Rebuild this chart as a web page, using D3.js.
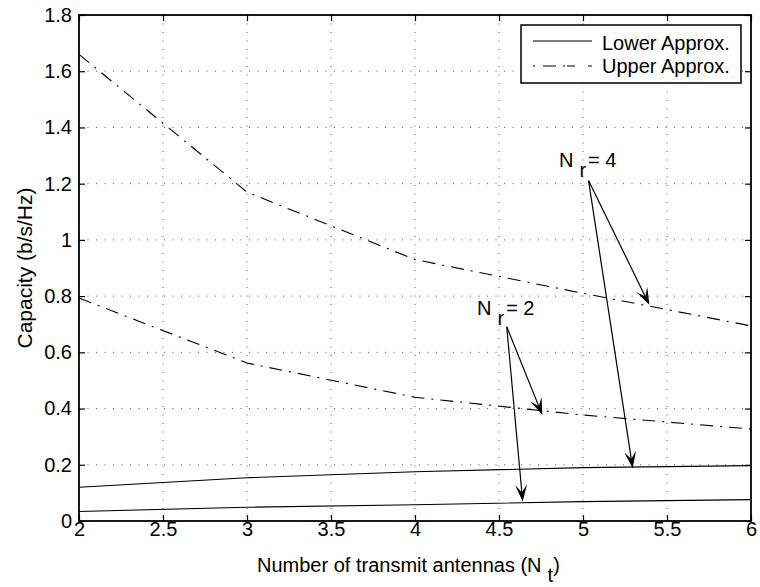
<!DOCTYPE html>
<html>
<head>
<meta charset="utf-8">
<script src="https://cdn.jsdelivr.net/npm/d3@7"></script>
<style>
  body { margin: 0; background: #fff; }
  text { font-family: "Liberation Sans", Arial, sans-serif; }
</style>
</head>
<body>
<div id="chart"></div>
<script>
const width = 760;
const height = 587;

// Data
const nt = [2, 3, 4, 5, 6];
const lowerNr2 = [0.034, 0.049, 0.058, 0.069, 0.076];
const lowerNr4 = [0.120, 0.154, 0.175, 0.190, 0.197];
const upperNr2 = [0.793, 0.562, 0.440, 0.377, 0.327];
const upperNr4 = [1.660, 1.170, 0.930, 0.810, 0.694];

const xTicks = [2, 2.5, 3, 3.5, 4, 4.5, 5, 5.5, 6];
const yTicks = [0, 0.2, 0.4, 0.6, 0.8, 1, 1.2, 1.4, 1.6, 1.8];

const legendLabels = ["Lower Approx.", "Upper Approx."];

// Annotations: label, text anchor, arrow tail and arrow heads (data units)
const annLabels = ["4", "2"];
const annTextPos = [[4.863, 1.26], [4.375, 0.733]];
const annTails = [[5.033, 1.211], [4.546, 0.691]];
const annHeads = [
  [[5.395, 0.769], [5.296, 0.1875]],
  [[4.758, 0.377], [4.641, 0.069]]
];

const margin = { top: 15, right: 9, bottom: 66, left: 79 };
const innerW = width - margin.left - margin.right;
const innerH = height - margin.top - margin.bottom;

const x = d3.scaleLinear().domain([2, 6]).range([0, innerW]);
const y = d3.scaleLinear().domain([0, 1.8]).range([innerH, 0]);

const svg = d3.select("#chart")
  .append("svg")
  .attr("width", width)
  .attr("height", height);

const g = svg.append("g")
  .attr("transform", `translate(${margin.left},${margin.top})`);

const fontSize = 20;

// Dotted grid
g.append("g")
  .selectAll("line")
  .data(xTicks.slice(1, -1))
  .join("line")
  .attr("x1", d => x(d)).attr("x2", d => x(d))
  .attr("y1", 0).attr("y2", innerH)
  .attr("stroke", "#555")
  .attr("stroke-dasharray", "1,7.5");

g.append("g")
  .selectAll("line")
  .data(yTicks.slice(1, -1))
  .join("line")
  .attr("y1", d => y(d)).attr("y2", d => y(d))
  .attr("x1", 0).attr("x2", innerW)
  .attr("stroke", "#555")
  .attr("stroke-dasharray", "1,7.5");

// Curves
const line = d3.line()
  .x((d, i) => x(nt[i]))
  .y(d => y(d));

[lowerNr2, lowerNr4].forEach(s => {
  g.append("path")
    .datum(s)
    .attr("d", line)
    .attr("fill", "none")
    .attr("stroke", "#000")
    .attr("stroke-width", 1.1);
});

[upperNr2, upperNr4].forEach(s => {
  g.append("path")
    .datum(s)
    .attr("d", line)
    .attr("fill", "none")
    .attr("stroke", "#000")
    .attr("stroke-width", 1.1)
    .attr("stroke-dasharray", "13,7,2,7");
});

// Axes: ticks inside on all four sides
const tickLen = 6;
const axisStyle = sel => {
  sel.select(".domain").remove();
  sel.selectAll(".tick line").attr("stroke", "#000").attr("stroke-width", 1.2);
  sel.selectAll(".tick text")
    .attr("fill", "#000")
    .style("font-size", `${fontSize}px`);
};

g.append("g")
  .attr("transform", `translate(0,${innerH})`)
  .call(d3.axisBottom(x).tickValues(xTicks).tickSize(-tickLen).tickPadding(1).tickFormat(d3.format("")))
  .call(axisStyle)
  .selectAll(".tick text").attr("dy", "0.72em");

g.append("g")
  .call(d3.axisTop(x).tickValues(xTicks).tickSize(-tickLen).tickFormat(""))
  .call(axisStyle);

g.append("g")
  .call(d3.axisLeft(y).tickValues(yTicks).tickSize(-tickLen).tickPadding(7).tickFormat(d3.format("")))
  .call(axisStyle);

g.append("g")
  .attr("transform", `translate(${innerW},0)`)
  .call(d3.axisRight(y).tickValues(yTicks).tickSize(-tickLen).tickFormat(""))
  .call(axisStyle);

// Box
g.append("rect")
  .attr("width", innerW)
  .attr("height", innerH)
  .attr("fill", "none")
  .attr("stroke", "#000")
  .attr("stroke-width", 1.8);

// Axis labels
const xLabel = svg.append("text")
  .attr("x", 257)
  .attr("y", 572)
  .style("font-size", `${fontSize}px`);
xLabel.append("tspan").text("Number of transmit antennas (N");
xLabel.append("tspan").attr("dy", 10).attr("dx", 6).text("t");
xLabel.append("tspan").attr("dy", -10).text(")");

svg.append("text")
  .attr("transform", `translate(32,${margin.top + innerH / 2}) rotate(-90)`)
  .attr("text-anchor", "middle")
  .style("font-size", "21px")
  .text("Capacity (b/s/Hz)");

// Legend
const legend = svg.append("g");
legend.append("rect")
  .attr("x", 521).attr("y", 25)
  .attr("width", 220).attr("height", 58)
  .attr("fill", "#fff")
  .attr("stroke", "#000")
  .attr("stroke-width", 1.5);

legendLabels.forEach((label, i) => {
  const ly = 41 + i * 25;
  legend.append("line")
    .attr("x1", 533).attr("x2", 592)
    .attr("y1", ly).attr("y2", ly)
    .attr("stroke", "#000")
    .attr("stroke-width", 1.1)
    .attr("stroke-dasharray", i === 0 ? null : "2,8,13,7,2");
  legend.append("text")
    .attr("x", 602)
    .attr("y", 50 + i * 22.5)
    .style("font-size", `${fontSize}px`)
    .text(label);
});

// Annotations with arrows
function arrowHead(x0, y0, x1, y1, len = 17, half = 6) {
  const dx = x1 - x0, dy = y1 - y0;
  const L = Math.hypot(dx, dy);
  const ux = dx / L, uy = dy / L;
  const nx = -uy, ny = ux;
  const bx = x1 - ux * len, by = y1 - uy * len;
  const notch = [x1 - ux * len * 0.55, y1 - uy * len * 0.55];
  return {
    notch,
    points: [
      [x1, y1],
      [bx + nx * half, by + ny * half],
      notch,
      [bx - nx * half, by - ny * half]
    ]
  };
}

annLabels.forEach((lab, k) => {
  const [tx, ty] = annTextPos[k];
  const t = g.append("text")
    .attr("x", x(tx) - 1)
    .attr("y", y(ty))
    .style("font-size", `${fontSize}px`);
  t.append("tspan").text("N");
  t.append("tspan").attr("dx", 6).attr("dy", 10).text("r");
  t.append("tspan").attr("dx", 2).attr("dy", -10).text(`= ${lab}`);

  const [sx, sy] = annTails[k];
  annHeads[k].forEach(([hx, hy]) => {
    const x0 = x(sx), y0 = y(sy), x1 = x(hx), y1 = y(hy);
    const head = arrowHead(x0, y0, x1, y1);
    g.append("line")
      .attr("x1", x0).attr("y1", y0)
      .attr("x2", head.notch[0]).attr("y2", head.notch[1])
      .attr("stroke", "#000")
      .attr("stroke-width", 1.2);
    g.append("polygon")
      .attr("points", head.points.map(p => p.join(",")).join(" "))
      .attr("fill", "#000");
  });
});
</script>
</body>
</html>
